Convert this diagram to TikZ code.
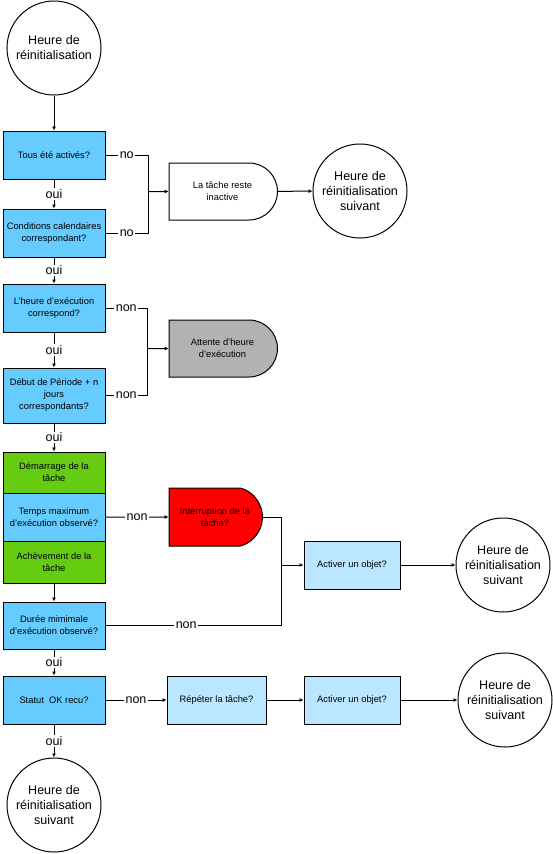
\documentclass[tikz,border=0pt]{standalone}
\usepackage{fontspec}
\setmainfont{Liberation Sans}
\usetikzlibrary{shapes.misc,arrows.meta}

\definecolor{qblue}{RGB}{102,204,255}
\definecolor{ablue}{RGB}{187,230,255}
\definecolor{tgreen}{RGB}{102,204,17}
\definecolor{wgray}{RGB}{178,178,178}

\tikzset{every picture/.style={line width=0.75pt}}
\tikzset{
  endcircle/.style={draw, circle, minimum size=70.5pt, inner sep=0pt, align=center,
    font=\fontsize{9.4}{11.25}\selectfont},
  qbox/.style={draw, rectangle, fill=qblue, minimum width=76.5pt, minimum height=36pt,
    inner sep=1pt, align=center, font=\fontsize{7}{9}\selectfont},
  abox/.style={qbox, fill=ablue, minimum width=72pt},
  gbox/.style={qbox, fill=tgreen},
  waitbox/.style={draw, rounded rectangle, rounded rectangle left arc=none,
    minimum width=83.25pt, minimum height=42.75pt, inner sep=1pt, align=center,
    font=\fontsize{7}{9}\selectfont},
  lbl/.style={fill=white, inner sep=1pt, font=\fontsize{9.4}{11}\selectfont},
  arr/.style={-{Latex[length=3pt,width=3pt]}}
}

\begin{document}
\begin{tikzpicture}[x=0.75pt,y=0.75pt,yscale=-1,xscale=1]
\useasboundingbox (0,0) rectangle (553,854);

% Start circle
\node [endcircle] (start) at (54,48) {Heure de\\réinitialisation};

% Left column: checks
\node [qbox] (q1) at (54,155) {Tous été activés?};
\node [qbox] (q2) at (54,233) {Conditions calendaires\\correspondant?};
\node [qbox] (q3) at (54,308) {L'heure d'exécution\\correspond?};
\node [qbox, minimum height=41.25pt] (q4) at (54,395.5) {Début de Période + n\\jours\\correspondants?};
\node [gbox, minimum height=30.75pt] (g1) at (54,472.5) {Démarrage de la\\tâche};
\node [qbox] (q5) at (54,517) {Temps maximum\\d'exécution observé?};
\node [gbox, minimum height=31.5pt] (g2) at (54,562) {Achèvement de la\\tâche};
\node [qbox, minimum height=35.25pt] (q6) at (54,625.5) {Durée mimimale\\d'exécution observé?};
\node [qbox] (q7) at (54,700) {Statut\ \ OK recu?};
\node [endcircle] (end4) at (54,805) {Heure de\\réinitialisation\\suivant};

% Right side
\node [waitbox] (inactive) at (222.5,191.5) {La tâche reste\\inactive};
\node [endcircle] (end1) at (360,191) {Heure de\\réinitialisation\\suivant};
\node [waitbox, fill=wgray] (wait) at (222.5,348.5) {Attente d'heure\\d'exécution};
\node [waitbox, fill=red, minimum width=72pt, minimum height=43.5pt,
  rounded rectangle arc length=150] (red) at (215,517) {Interruption de la\\tâche?};
\node [abox] (act1) at (352,565) {Activer un objet?};
\node [endcircle] (end2) at (503,565) {Heure de\\réinitialisation\\suivant};
\node [abox, minimum width=74.25pt] (rep) at (216.5,700) {Répéter la tâche?};
\node [abox] (act2) at (352,700) {Activer un objet?};
\node [endcircle] (end3) at (505,700) {Heure de\\réinitialisation\\suivant};

% Junctions
\coordinate (j1) at (148,191.5);
\coordinate (j2) at (147,348.5);
\coordinate (j3) at (281,565);

% Main flow
\draw [arr] (start) -- (q1);
\draw [arr] (q1) -- node [lbl] {oui} (q2);
\draw [arr] (q2) -- node [lbl] {oui} (q3);
\draw [arr] (q3) -- node [lbl] {oui} (q4);
\draw [arr] (q4) -- node [lbl] {oui} (g1);
\draw [arr] (g2) -- (q6);
\draw [arr] (q6) -- node [lbl] {oui} (q7);
\draw [arr] (q7) -- node [lbl] {oui} (end4);

% Branches
\draw (q1.east) -| node [lbl, pos=0.25] {no} (j1);
\draw (q2.east) -| node [lbl, pos=0.25] {no} (j1);
\draw [arr] (j1) -- (inactive);
\draw [arr] (inactive) -- (end1);

\draw (q3.east) -| node [lbl, pos=0.25] {non} (j2);
\draw (q4.east) -| node [lbl, pos=0.25] {non} (j2);
\draw [arr] (j2) -- (wait);

\draw [arr] (q5) -- node [lbl] {non} (red);
\draw (red.east) -| (j3);
\draw (q6.east) -| node [lbl, pos=0.23] {non} (j3);
\draw [arr] (j3) -- (act1);
\draw [arr] (act1) -- (end2);

\draw [arr] (q7) -- node [lbl] {non} (rep);
\draw [arr] (rep) -- (act2);
\draw [arr] (act2) -- (end3);
\end{tikzpicture}
\end{document}
